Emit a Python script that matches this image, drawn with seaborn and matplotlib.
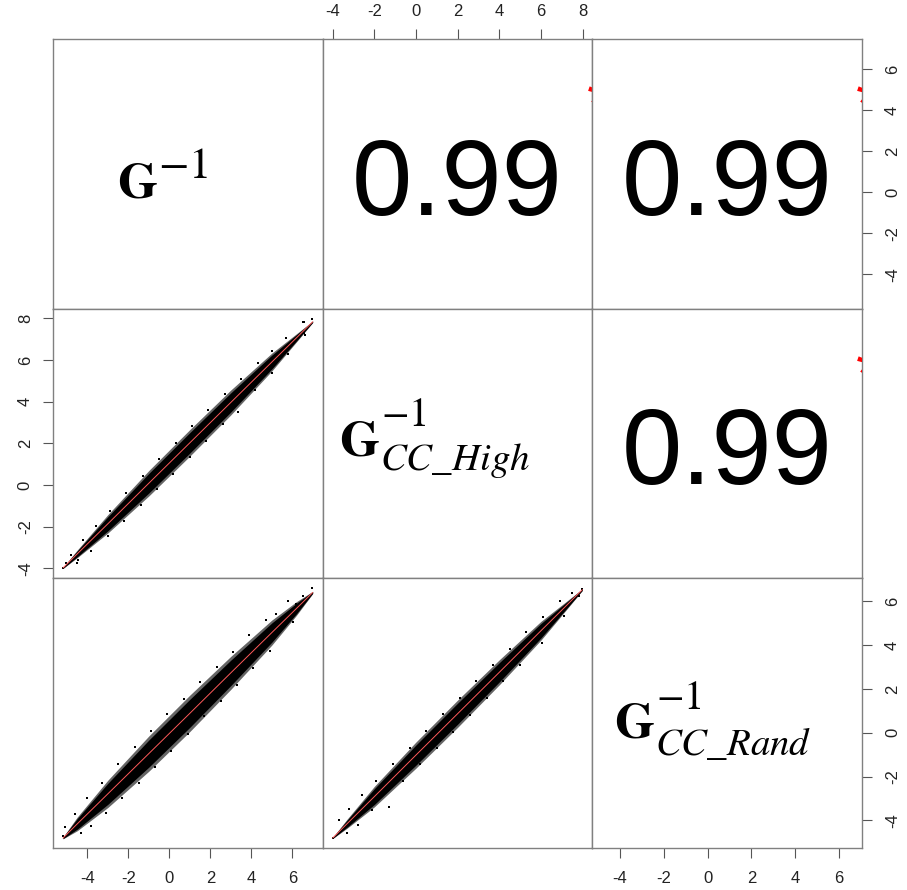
import matplotlib
matplotlib.use("Agg")
import matplotlib.pyplot as plt
import pandas as pd
import seaborn as sns

# variable names (diagonal labels: base, superscript, subscript) and data extremes
var_base = r"$\mathbf{G}$"
var_sup = r"$-1$"
var_sub = [None, r"$CC\_High$", r"$CC\_Rand$"]
var_min = [-5.19, -4.0, -4.81]
var_max = [6.99, 7.99, 6.60]
var_ticks = [[-4, -2, 0, 2, 4, 6], [-4, -2, 0, 2, 4, 6, 8], [-4, -2, 0, 2, 4, 6]]

# upper panels: correlation coefficients
corr_text = "0.99"

# lower panel (row 2, col 1): G^-1 (x) vs G^-1_CC_High (y)
high_knot_x = [-5.19, -4.5, -3.0, -1.0, 1.0, 3.0, 5.0, 6.2, 6.99]
high_knot_y = [-3.98, -3.31, -1.86, 0.09, 2.03, 3.97, 5.91, 7.07, 7.84]
high_core = [0.02, 0.14, 0.34, 0.47, 0.49, 0.46, 0.33, 0.15, 0.03]
high_out_x = [-5.19, -5.05, -4.8, -4.45, -4.2, -3.6, -2.9, -2.1, -1.3, -0.5, 0.3, 1.1,
              1.9, 2.7, 3.5, 4.3, 5.0, 5.7, 6.5, 6.96, 6.55, -4.5, -3.8, -3.0, -2.2,
              -1.4, -0.6, 0.2, 1.0, 1.8, 2.6, 3.34, 4.2, 5.0, 5.8, 6.6, 6.58]
high_out_y = [-3.98, -3.75, -3.35, -3.60, -2.62, -1.98, -1.25, -0.40, 0.42, 1.25, 2.02,
              2.85, 3.60, 4.35, 5.10, 5.85, 6.45, 7.05, 7.82, 7.97, 7.82, -3.72, -3.15,
              -2.45, -1.72, -0.95, -0.18, 0.55, 1.35, 2.12, 2.95, 3.51, 4.55, 5.40,
              6.30, 7.20, 7.28]

# lower panel (row 3, col 1): G^-1 (x) vs G^-1_CC_Rand (y)
rand_knot_x = [-5.19, -4.5, -3.0, -1.0, 1.0, 3.0, 5.0, 6.2, 6.99]
rand_knot_y = [-4.81, -4.17, -2.79, -0.95, 0.89, 2.74, 4.58, 5.68, 6.41]
rand_core = [0.03, 0.24, 0.48, 0.62, 0.64, 0.58, 0.44, 0.24, 0.04]
rand_out_x = [-5.19, -5.1, -4.6, -4.0, -3.3, -2.5, -1.7, -0.9, -0.1, 0.7, 1.5, 2.3, 3.1,
              3.9, 4.7, 5.2, 5.8, 6.5, 6.96, -4.29, -3.8, -3.1, -2.3, -1.5, -0.7, 0.1,
              0.9, 1.7, 2.5, 3.3, 4.1, 4.9, 6.01, 6.18]
rand_out_y = [-4.73, -4.32, -3.70, -3.00, -2.30, -1.45, -0.65, 0.10, 0.85, 1.55, 2.30,
              3.00, 3.70, 4.45, 5.15, 5.42, 6.00, 6.26, 6.61, -4.58, -4.25, -3.65,
              -3.00, -2.30, -1.55, -0.85, -0.05, 0.75, 1.45, 2.20, 2.95, 3.75, 5.04, 5.88]

# lower panel (row 3, col 2): G^-1_CC_High (x) vs G^-1_CC_Rand (y)
hr_knot_x = [-4.0, -3.3, -2.0, 0.0, 2.0, 4.0, 6.0, 7.2, 7.99]
hr_knot_y = [-4.81, -4.15, -2.92, -1.02, 0.87, 2.76, 4.66, 5.79, 6.54]
hr_core = [0.02, 0.16, 0.36, 0.46, 0.48, 0.44, 0.33, 0.15, 0.03]
hr_out_x = [-3.7, -3.2, -2.6, -1.9, -1.1, -0.3, 0.5, 1.3, 2.1, 2.9, 3.7, 4.5, 5.3, 6.1,
            6.9, 7.5, 7.99, 7.82, -4.0, -3.31, -2.8, -2.1, -1.31, -0.6, 0.2, 1.0, 1.8,
            2.6, 3.4, 4.2, 5.0, 6.06, 7.1]
hr_out_y = [-4.00, -3.50, -2.85, -2.20, -1.45, -0.70, 0.10, 0.85, 1.60, 2.35, 3.10, 3.85,
            4.60, 5.30, 6.00, 6.40, 6.57, 6.26, -4.81, -4.58, -4.20, -3.55, -3.39,
            -2.20, -1.45, -0.70, 0.05, 0.82, 1.60, 2.35, 3.10, 4.12, 5.34]

sns.set_theme(style="white")
plt.rcParams["font.family"] = ["Liberation Sans", "DejaVu Sans"]
plt.rcParams["mathtext.fontset"] = "stix"
plt.rcParams["axes.unicode_minus"] = False

W, H = 907, 890
fig = plt.figure(figsize=(W / 100, H / 100), dpi=100)
axes = fig.subplots(3, 3, gridspec_kw=dict(wspace=0, hspace=0))
fig.subplots_adjust(left=53 / W, right=862 / W, bottom=1 - 848 / H, top=1 - 39 / H)


def lim(i):
    span = var_max[i] - var_min[i]
    return var_min[i] - 0.04 * span, var_max[i] + 0.04 * span


def draw_cloud(ax, kx, ky, core, ox, oy):
    lo = [y - c for y, c in zip(ky, core)]
    hi = [y + c for y, c in zip(ky, core)]
    lo2 = [y - 1.3 * c for y, c in zip(ky, core)]
    hi2 = [y + 1.3 * c for y, c in zip(ky, core)]
    ax.fill_between(kx, lo2, hi2, color="black", alpha=0.6, lw=0)
    ax.fill_between(kx, lo, hi, color="black", lw=0)
    pts = pd.DataFrame({"x": ox, "y": oy})
    sns.scatterplot(data=pts, x="x", y="y", ax=ax, color="black", marker="s",
                    s=4, linewidth=0)
    fit = pd.DataFrame({"x": kx, "y": ky})
    sns.lineplot(data=fit, x="x", y="y", ax=ax, color="#ff5a5a", lw=0.7,
                 estimator=None, sort=False)


def fig_text(px, py, s, size):
    # place text by pixel position (left edge, baseline)
    fig.text(px / W, 1 - py / H, s, fontsize=size, ha="left", va="baseline",
             color="black")


tick_kw = dict(length=7.5, width=0.8, color="#555555", labelsize=12,
               labelcolor="#222222")

for r in range(3):
    for c in range(3):
        ax = axes[r, c]
        ax.set_xlim(*lim(c))
        ax.set_ylim(*lim(r))
        ax.set_xticks([])
        ax.set_yticks([])
        for s in ax.spines.values():
            s.set_color("#808080")
            s.set_linewidth(1.0)

draw_cloud(axes[1, 0], high_knot_x, high_knot_y, high_core, high_out_x, high_out_y)
draw_cloud(axes[2, 0], rand_knot_x, rand_knot_y, rand_core, rand_out_x, rand_out_y)
draw_cloud(axes[2, 1], hr_knot_x, hr_knot_y, hr_core, hr_out_x, hr_out_y)

for r in range(3):
    for c in range(3):
        axes[r, c].set_xlabel("")
        axes[r, c].set_ylabel("")

# diagonal labels: G in bold, large -1 superscript, italic subscript
label_layout = [
    dict(g=(117, 197), sup=(158, 178, 32), sub=None),
    dict(g=(339, 455), sup=(381, 426, 29), sub=(380, 470, 28)),
    dict(g=(614, 738), sup=(656, 709, 29), sub=(655, 755, 28)),
]
for i, lay in enumerate(label_layout):
    fig_text(lay["g"][0], lay["g"][1], var_base, 37)
    fig_text(lay["sup"][0], lay["sup"][1], var_sup, lay["sup"][2])
    if lay["sub"] is not None:
        fig_text(lay["sub"][0], lay["sub"][1], var_sub[i], lay["sub"][2])

# upper panels: correlation text and the clipped red significance mark
for r, c in [(0, 1), (0, 2), (1, 2)]:
    ax = axes[r, c]
    ax.text(0.5, 0.348, corr_text, transform=ax.transAxes, fontsize=78,
            ha="center", va="baseline", color="black")
    ax.text(0.978, 0.74, "*", transform=ax.transAxes, fontsize=50,
            ha="left", va="center", color="red", clip_on=True)

# outer axes, R pairs style
ax = axes[0, 1]
ax.xaxis.tick_top()
ax.set_xticks(var_ticks[1])
ax.set_xticklabels([str(t) for t in var_ticks[1]])
ax.tick_params(axis="x", top=True, bottom=False, pad=7, **tick_kw)

for c in (0, 2):
    ax = axes[2, c]
    ax.set_xticks(var_ticks[c])
    ax.set_xticklabels([str(t) for t in var_ticks[c]])
    ax.tick_params(axis="x", bottom=True, pad=9, **tick_kw)

ax = axes[1, 0]
ax.set_yticks(var_ticks[1])
ax.set_yticklabels([str(t) for t in var_ticks[1]], rotation=90, va="center")
ax.tick_params(axis="y", left=True, pad=7, **tick_kw)

for r in (0, 2):
    ax = axes[r, 2]
    ax.yaxis.tick_right()
    ax.set_yticks(var_ticks[r])
    ax.set_yticklabels([str(t) for t in var_ticks[r]], rotation=90, va="center")
    ax.tick_params(axis="y", right=True, left=False, pad=9, **tick_kw)

fig.savefig("out.png", dpi=100, facecolor="white")
